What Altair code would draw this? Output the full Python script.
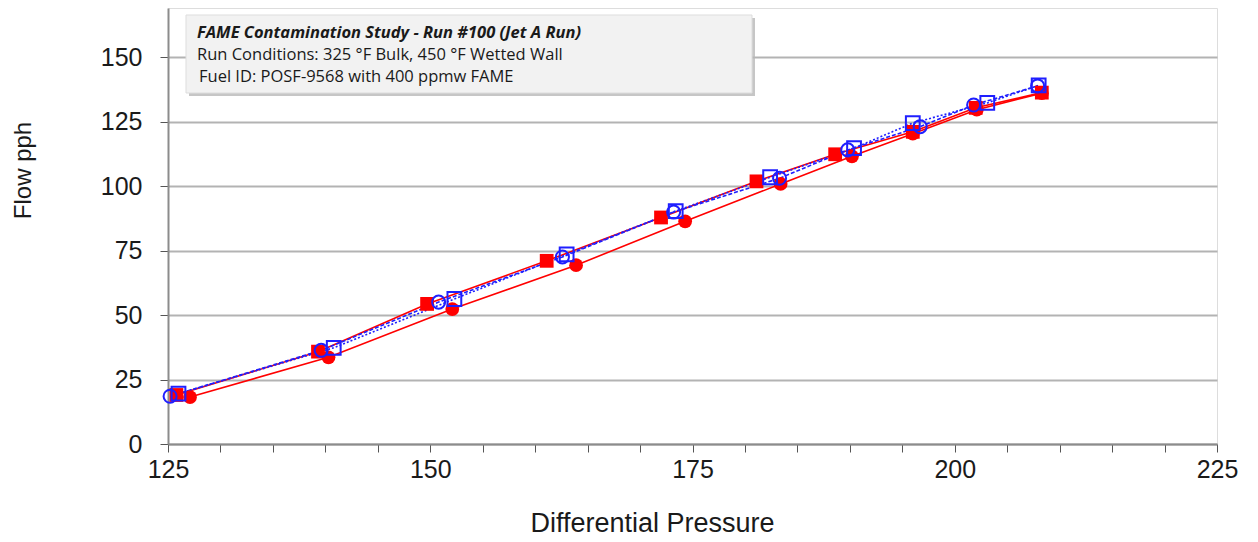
import altair as alt
import pandas as pd

# ---- data ----
red_sq_x = [125.8, 139.3, 149.7, 161.1, 172.0, 181.1, 188.6, 196.0, 202.0, 208.3]
red_sq_y = [19.0, 35.8, 54.3, 71.0, 87.8, 101.8, 112.3, 121.0, 130.3, 136.2]

red_ci_x = [127.1, 140.3, 152.1, 163.9, 174.3, 183.4, 190.2, 196.0, 202.1, 208.3]
red_ci_y = [18.2, 33.6, 52.3, 69.3, 86.3, 100.8, 111.5, 120.3, 129.6, 136.0]

blue_sq_x = [126.0, 140.8, 152.3, 163.0, 173.4, 182.4, 190.4, 196.0, 203.1, 208.0]
blue_sq_y = [19.5, 37.3, 56.2, 73.5, 90.3, 103.4, 114.7, 124.4, 132.2, 139.0]

blue_ci_x = [125.2, 139.6, 150.8, 162.6, 173.2, 183.3, 189.8, 196.7, 201.8, 207.9]
blue_ci_y = [18.5, 36.3, 55.0, 72.5, 89.9, 103.0, 114.0, 123.0, 131.4, 138.8]

x_ticks = list(range(125, 226, 5))
y_ticks = [0, 25, 50, 75, 100, 125, 150]

box_lines = [
    "FAME Contamination Study - Run #100 (Jet A Run)",
    "Run Conditions: 325 °F Bulk, 450 °F Wetted Wall",
    "Fuel ID: POSF-9568 with 400 ppmw FAME",
]

RED = "#ff0000"
BLUE = "#1f1fff"

xscale = alt.Scale(domain=[125, 225], nice=False, zero=False)
yscale = alt.Scale(domain=[0, 169], nice=False)

xaxis = alt.Axis(
    values=x_ticks,
    labelExpr="datum.value % 25 == 0 ? datum.label : ''",
    grid=False,
    tickSize=8,
    tickColor="#555555",
    domainColor="#8c8c8c",
    domainWidth=2,
    labelFont="Liberation Sans",
    labelFontSize=25,
    labelColor="#1a1a1a",
    labelPadding=5,
    labelFlush=False,
    title="Differential Pressure",
    titleFont="Liberation Sans",
    titleFontSize=27,
    titleFontWeight="normal",
    titleColor="#1a1a1a",
    titlePadding=28,
    titleX=484,
    titleAlign="center",
)

yaxis = alt.Axis(
    values=y_ticks,
    grid=True,
    gridColor="#b3b3b3",
    gridWidth=2,
    tickSize=8,
    tickColor="#555555",
    domainColor="#8c8c8c",
    domainWidth=2,
    labelFont="Liberation Sans",
    labelFontSize=25,
    labelColor="#1a1a1a",
    labelPadding=18,
    title="Flow pph",
    titleFont="Liberation Sans",
    titleFontSize=24,
    titleFontWeight="normal",
    titleColor="#1a1a1a",
    titlePadding=65,
    titleY=162,
    titleAlign="center",
)


def series_layer(xs, ys, color, shape, filled, dash, size):
    df = pd.DataFrame({"dp": xs, "flow": ys})
    base = alt.Chart(df).encode(
        x=alt.X("dp:Q", scale=xscale, axis=xaxis),
        y=alt.Y("flow:Q", scale=yscale, axis=yaxis),
    )
    line_kw = dict(color=color, strokeWidth=1.6)
    if dash:
        line_kw["strokeDash"] = dash
    line = base.mark_line(**line_kw)
    pts = base.mark_point(
        shape=shape, filled=filled, color=color, size=size,
        strokeWidth=2, opacity=1,
    )
    return line, pts


l1, p1 = series_layer(red_ci_x, red_ci_y, RED, "circle", True, None, 190)
l2, p2 = series_layer(red_sq_x, red_sq_y, RED, "square", True, None, 190)
l3, p3 = series_layer(blue_ci_x, blue_ci_y, BLUE, "circle", False, [4, 2], 170)
l4, p4 = series_layer(blue_sq_x, blue_sq_y, BLUE, "square", False, [2, 2], 190)

one = pd.DataFrame({"a": [0]})
shadow = alt.Chart(one).mark_rect(color="#b8b8b8", opacity=0.8).encode(
    x=alt.value(21), x2=alt.value(587), y=alt.value(10), y2=alt.value(88)
)
box = alt.Chart(one).mark_rect(color="#f2f2f2", stroke="#dddddd", strokeWidth=1).encode(
    x=alt.value(18), x2=alt.value(584), y=alt.value(7), y2=alt.value(85)
)
t1 = alt.Chart(one).mark_text(
    text=box_lines[0], font="Open Sans", fontSize=16.5, fontStyle="italic",
    fontWeight="bold", align="left", baseline="middle", color="#1a1a1a",
).encode(x=alt.value(29), y=alt.value(25))
t2 = alt.Chart(one).mark_text(
    text=box_lines[1], font="Open Sans", fontSize=16.5,
    align="left", baseline="middle", color="#1a1a1a",
).encode(x=alt.value(29), y=alt.value(47))
t3 = alt.Chart(one).mark_text(
    text=box_lines[2], font="Open Sans", fontSize=16.5,
    align="left", baseline="middle", color="#1a1a1a",
).encode(x=alt.value(31), y=alt.value(69))

chart = alt.layer(
    l1, l2, l3, l4, p1, p2, p3, p4, shadow, box, t1, t2, t3
).properties(
    width=1049, height=436,
    autosize=alt.AutoSizeParams(type="none"),
    padding={"left": 160, "top": 0, "right": 30, "bottom": 92},
).configure_view(
    stroke="#999999", strokeWidth=2
).configure(background="white")

chart.save("out.html", embed_options={"renderer": "svg", "actions": False})
